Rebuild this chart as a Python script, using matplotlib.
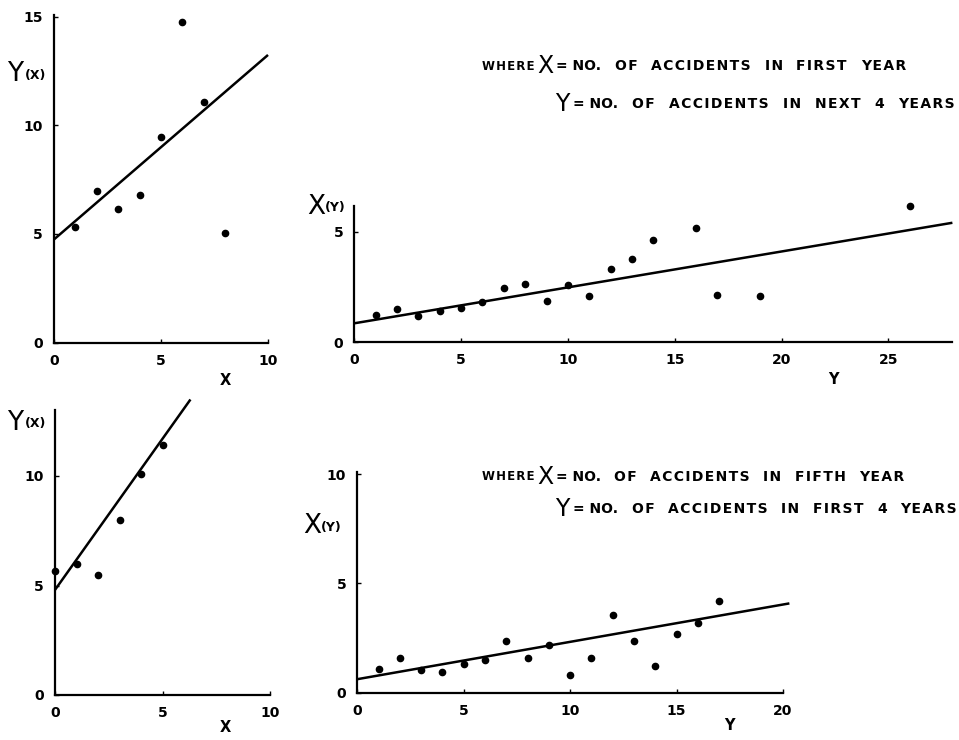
import matplotlib
matplotlib.use("Agg")
import matplotlib.pyplot as plt
import numpy as np

W, H = 959, 740

# ---- data ----
p1_x = [1, 2, 3, 4, 5, 6, 7, 8]
p1_y = [5.3, 7.0, 6.15, 6.8, 9.45, 14.75, 11.1, 5.05]
p1_line = (4.75, 0.85)      # intercept, slope
p1_line_x = [0, 10]

p2_x = [1, 2, 3, 4, 5, 6, 7, 8, 9, 10, 11, 12, 13, 14, 16, 17, 19, 26]
p2_y = [1.24, 1.52, 1.18, 1.41, 1.56, 1.82, 2.47, 2.65, 1.86, 2.61, 2.1,
        3.33, 3.77, 4.65, 5.18, 2.15, 2.1, 6.18]
p2_line = (0.86, 0.1625)
p2_line_x = [0, 28]

p3_x = [0, 1, 2, 3, 4, 5]
p3_y = [5.68, 5.98, 5.5, 8.0, 10.08, 11.4]
p3_line = (4.8, 1.38)
p3_line_x = [0, 6.3]

p4_x = list(range(1, 18))
p4_y = [1.07, 1.6, 1.05, 0.92, 1.31, 1.48, 2.34, 1.57, 2.17, 0.79, 1.6,
        3.56, 2.37, 1.22, 2.7, 3.2, 4.17]
p4_line = (0.61, 0.171)
p4_line_x = [0, 20.3]

p1_xticks, p1_yticks = [0, 5, 10], [0, 5, 10, 15]
p2_xticks, p2_yticks = [0, 5, 10, 15, 20, 25], [0, 5]
p3_xticks, p3_yticks = [0, 5, 10], [0, 5, 10]
p4_xticks, p4_yticks = [0, 5, 10, 15, 20], [0, 5, 10]

note_top_1 = ["= NO.", "OF", "ACCIDENTS", "IN", "FIRST", "YEAR"]
note_top_2 = ["= NO.", "OF", "ACCIDENTS", "IN", "NEXT", "4", "YEARS"]
note_bot_1 = ["= NO.", "OF", "ACCIDENTS", "IN", "FIFTH", "YEAR"]
note_bot_2 = ["= NO.", "OF", "ACCIDENTS", "IN", "FIRST", "4", "YEARS"]

fig = plt.figure(figsize=(W / 100, H / 100), dpi=100)
fig.patch.set_facecolor("white")
renderer = fig.canvas.get_renderer()
HAIR = "\u200a"


def px(x, y):
    return x / W, 1 - y / H


def make_ax(rect, xlim, ylim, xt, yt, xs, ys, line, lx):
    ax = fig.add_axes(rect)
    ax.set_xlim(*xlim)
    ax.set_ylim(*ylim)
    for s in ("top", "right"):
        ax.spines[s].set_visible(False)
    for s in ("left", "bottom"):
        ax.spines[s].set_linewidth(1.6)
        ax.spines[s].set_color("black")
    ax.set_xticks(xt)
    ax.set_yticks(yt)
    ax.tick_params(direction="in", length=3, width=1, labelsize=10,
                   pad=8, colors="black")
    for lab in ax.get_xticklabels() + ax.get_yticklabels():
        lab.set_fontweight("bold")
    ax.plot(xs, ys, "o", color="black", markersize=4.5, clip_on=False,
            zorder=3)
    b, m = line
    lx = np.array(lx, dtype=float)
    ax.plot(lx, b + m * lx, "-", color="black", lw=1.8, clip_on=False,
            solid_capstyle="butt")
    return ax


ax1 = make_ax([54 / W, 1 - 342.5 / H, 214 / W, 327.7 / H], (0, 10), (0, 15.1),
              p1_xticks, p1_yticks, p1_x, p1_y, p1_line, p1_line_x)
ax2 = make_ax([354.3 / W, 1 - 342.3 / H, 598.1 / W, 136.1 / H], (0, 28), (0, 6.16),
              p2_xticks, p2_yticks, p2_x, p2_y, p2_line, p2_line_x)
ax3 = make_ax([55 / W, 1 - 695 / H, 215 / W, 284.7 / H], (0, 10), (0, 13.0),
              p3_xticks, p3_yticks, p3_x, p3_y, p3_line, p3_line_x)
ax4 = make_ax([357.3 / W, 1 - 692.5 / H, 425.7 / W, 220.5 / H], (0, 20), (0, 10.1),
              p4_xticks, p4_yticks, p4_x, p4_y, p4_line, p4_line_x)

# axis labels
for (x, y, t) in [(225, 381, "X"), (833, 379, "Y"), (225, 728, "X"), (729, 726, "Y")]:
    fig.text(*px(x, y), t, ha="center", va="center", fontsize=10.5,
             fontweight="bold")


def ylab(xb, y, big, small):
    fig.text(*px(xb, y), big, ha="left", va="center", fontsize=19)
    fig.text(*px(xb + 18, y + 1), small, ha="left", va="center",
             fontsize=9, fontweight="bold")


ylab(7, 74, "Y", "(X)")
ylab(307, 207, "X", "(Y)")
ylab(7, 423, "Y", "(X)")
ylab(303, 526, "X", "(Y)")


def track(w):
    return HAIR.join(w) if w.isalpha() else w


def words(ws, x0, x1, y):
    """Spread words evenly between x0 and x1 (pixels)."""
    texts = [fig.text(0, 0, track(w), ha="left", va="center", fontsize=10,
                      fontweight="bold") for w in ws]
    widths = [t.get_window_extent(renderer).width for t in texts]
    gap = (x1 - x0 - sum(widths)) / (len(ws) - 1)
    x = x0
    for t, wd in zip(texts, widths):
        t.set_position(px(x, y))
        x += wd + gap


def note(l1, l2, y1, y2, e1, e2):
    fig.text(*px(534, y1), track("WHERE"), ha="right", va="center",
             fontsize=8.5, fontweight="bold")
    fig.text(*px(545, y1), "X", ha="center", va="center", fontsize=17)
    words(l1, 556, e1, y1)
    fig.text(*px(562, y2), "Y", ha="center", va="center", fontsize=17)
    words(l2, 573, e2, y2)


note(note_top_1, note_top_2, 66, 104, 906, 955)
note(note_bot_1, note_bot_2, 477, 509, 904, 957)

fig.savefig("out.png", dpi=100, facecolor="white")
